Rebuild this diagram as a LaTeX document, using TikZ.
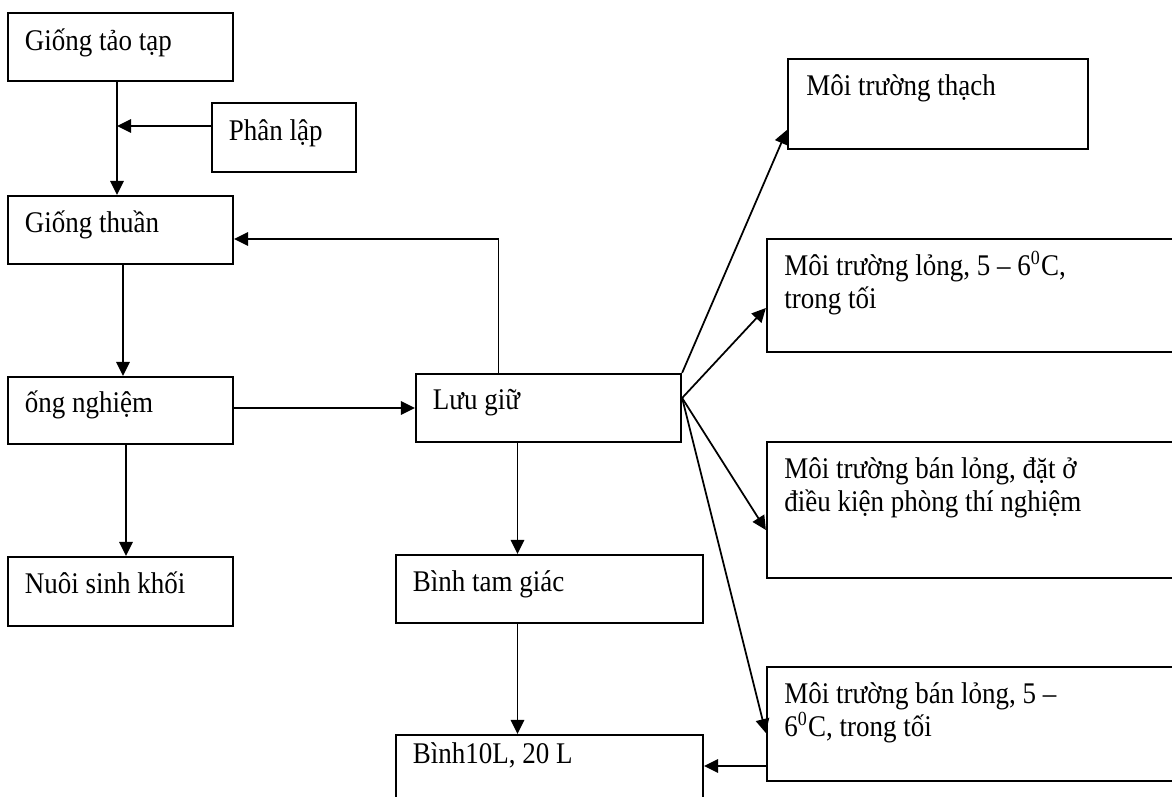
\documentclass[tikz,border=0pt]{standalone}
\usepackage{fontspec}
\setmainfont{Liberation Serif}[FakeStretch=0.9]
\usetikzlibrary{fit,arrows.meta}

\begin{document}
\begin{tikzpicture}[x=0.4pt,y=-0.4pt,
  box/.style={draw,line width=0.9pt,inner sep=0pt},
  txt/.style={anchor=base west,inner sep=0pt,align=left,font=\fontsize{12}{13.2}\selectfont},
  arr/.style={line width=0.7pt,-{Triangle[length=5.6pt,width=5.4pt]}}]

\useasboundingbox (0,0) rectangle (1172,797);
\clip (0,0) rectangle (1172,797);

% boxes
\node[box,fit={(8,13) (233,81)}] (tao) {};
\node[box,fit={(212,103) (356,172)}] (phan) {};
\node[box,fit={(8,196) (233,264)}] (thuan) {};
\node[box,fit={(8,377) (233,444)}] (ong) {};
\node[box,fit={(8,557) (233,626)}] (nuoi) {};
\node[box,fit={(416,374) (681,442)}] (luu) {};
\node[box,fit={(396,555) (703,623)}] (binh) {};
\node[box,fit={(396,735) (703,830)}] (binhL) {};
\node[box,fit={(788,59) (1088,149)}] (thach) {};
\node[box,fit={(767,239) (1190,352)}] (long) {};
\node[box,fit={(767,442) (1190,578)}] (banlong) {};
\node[box,fit={(767,667) (1190,781)}] (banlongT) {};

% texts (base = last line)
\node[txt] (taoT) at ([shift={(7pt,-15.6pt)}]tao.north west) {Giống tảo tạp};
\node[txt] (phanT) at ([shift={(7pt,-15.6pt)}]phan.north west) {Phân lập};
\node[txt] (thuanT) at ([shift={(7pt,-15.2pt)}]thuan.north west) {Giống thuần};
\node[txt] (ongT) at ([shift={(7pt,-14.8pt)}]ong.north west) {ống nghiệm};
\node[txt] (nuoiT) at ([shift={(7pt,-15.2pt)}]nuoi.north west) {Nuôi sinh khối};
\node[txt] (luuT) at ([shift={(7pt,-14.8pt)}]luu.north west) {Lưu giữ};
\node[txt] (binhT) at ([shift={(7pt,-15.2pt)}]binh.north west) {Bình tam giác};
\node[txt] (binhLT) at ([shift={(7pt,-12pt)}]binhL.north west) {Bình10L, 20 L};
\node[txt] (thachT) at ([shift={(7.6pt,-15.2pt)}]thach.north west) {Môi trường thạch};
\node[txt] (longT) at ([shift={(7.2pt,-28.4pt)}]long.north west) {Môi trường lỏng, 5 – 6\textsuperscript{0}C,\\trong tối};
\node[txt] (banlongTT) at ([shift={(7.2pt,-28.4pt)}]banlong.north west) {Môi trường bán lỏng, đặt ở\\điều kiện phòng thí nghiệm};
\node[txt] (banlongTxt) at ([shift={(7.2pt,-28.4pt)}]banlongT.north west) {Môi trường bán lỏng, 5 –\\6\textsuperscript{0}C, trong tối};

% left column
\coordinate (joinT) at ([xshift=-1.4pt]tao.south);
\coordinate (phanOut) at ([yshift=4.6pt]phan.west);
\draw[arr] (joinT) -- (joinT |- thuan.north);
\draw[arr] (phanOut) -- (phanOut -| joinT);
\draw[arr] ([xshift=1pt]thuan.south) -- ([xshift=1pt]ong.north);
\draw[arr] ([xshift=2.2pt]ong.south) -- ([xshift=2.2pt]nuoi.north);
\draw[arr] (ong.east |- luu.west) -- (luu.west);

% back to Giong thuan
\coordinate (luuUp) at ([xshift=-20pt]luu.north);
\coordinate (thuanIn) at ([yshift=-3.6pt]thuan.east);
\draw[arr] (luuUp) |- (thuanIn);

% middle column
\coordinate (luuDown) at ([xshift=-12.4pt]luu.south);
\draw[arr] (luuDown) -- (luuDown |- binh.north);
\draw[arr] (luuDown |- binh.south) -- (luuDown |- binhL.north);
\coordinate (blOut) at ([yshift=-16.8pt]banlongT.west);
\draw[arr] (blOut) -- (blOut -| binhL.east);

% storage media
\coordinate (luuOut) at ([yshift=4pt]luu.east);
\draw[arr] (luu.north east) -- ([yshift=-10.4pt]thach.west);
\draw[arr] (luuOut) -- ([yshift=-5pt]long.west);
\draw[arr] (luuOut) -- ([yshift=-8pt]banlong.west);
\draw[arr] (luuOut) -- ([yshift=-3.6pt]banlongT.west);

\end{tikzpicture}
\end{document}
